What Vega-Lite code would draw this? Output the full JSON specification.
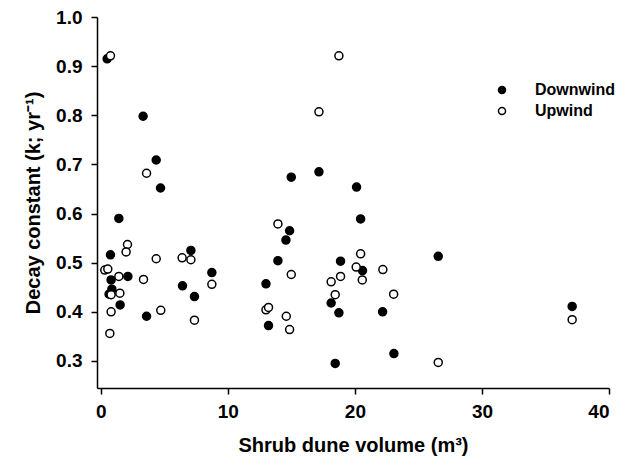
{
  "$schema": "https://vega.github.io/schema/vega-lite/v6.json",
  "width": 512,
  "height": 371,
  "autosize": "none",
  "padding": {"left": 97, "top": 17, "right": 22, "bottom": 82},
  "background": "white",
  "config": {
    "view": {"stroke": null},
    "font": "Liberation Sans",
    "axis": {
      "grid": false,
      "domainColor": "black",
      "domainWidth": 1.5,
      "tickColor": "black",
      "tickWidth": 1.5,
      "tickSize": 6,
      "labelFont": "Liberation Sans",
      "labelFontWeight": "bold",
      "labelFontSize": 19,
      "labelColor": "black",
      "titleFont": "Liberation Sans",
      "titleFontWeight": "bold",
      "titleFontSize": 20,
      "titleColor": "black"
    }
  },
  "data": {
    "values": [
      {"volume": 0.5, "k": 0.915, "side": "Downwind"},
      {"volume": 3.33, "k": 0.798, "side": "Downwind"},
      {"volume": 4.36, "k": 0.709, "side": "Downwind"},
      {"volume": 4.7, "k": 0.652, "side": "Downwind"},
      {"volume": 1.42, "k": 0.59, "side": "Downwind"},
      {"volume": 0.76, "k": 0.516, "side": "Downwind"},
      {"volume": 7.09, "k": 0.525, "side": "Downwind"},
      {"volume": 8.74, "k": 0.48, "side": "Downwind"},
      {"volume": 0.81, "k": 0.465, "side": "Downwind"},
      {"volume": 2.13, "k": 0.472, "side": "Downwind"},
      {"volume": 6.43, "k": 0.453, "side": "Downwind"},
      {"volume": 0.87, "k": 0.446, "side": "Downwind"},
      {"volume": 0.65, "k": 0.436, "side": "Downwind"},
      {"volume": 7.37, "k": 0.431, "side": "Downwind"},
      {"volume": 1.52, "k": 0.414, "side": "Downwind"},
      {"volume": 3.6, "k": 0.391, "side": "Downwind"},
      {"volume": 13.0, "k": 0.457, "side": "Downwind"},
      {"volume": 13.2, "k": 0.372, "side": "Downwind"},
      {"volume": 14.99, "k": 0.674, "side": "Downwind"},
      {"volume": 17.17, "k": 0.685, "side": "Downwind"},
      {"volume": 20.13, "k": 0.654, "side": "Downwind"},
      {"volume": 20.45, "k": 0.589, "side": "Downwind"},
      {"volume": 14.86, "k": 0.565, "side": "Downwind"},
      {"volume": 14.57, "k": 0.546, "side": "Downwind"},
      {"volume": 26.56, "k": 0.513, "side": "Downwind"},
      {"volume": 13.94, "k": 0.504, "side": "Downwind"},
      {"volume": 18.87, "k": 0.503, "side": "Downwind"},
      {"volume": 20.6, "k": 0.484, "side": "Downwind"},
      {"volume": 18.13, "k": 0.418, "side": "Downwind"},
      {"volume": 18.74, "k": 0.398, "side": "Downwind"},
      {"volume": 22.18, "k": 0.4, "side": "Downwind"},
      {"volume": 23.07, "k": 0.315, "side": "Downwind"},
      {"volume": 18.45, "k": 0.295, "side": "Downwind"},
      {"volume": 37.1, "k": 0.411, "side": "Downwind"},
      {"volume": 0.76, "k": 0.921, "side": "Upwind"},
      {"volume": 3.6, "k": 0.682, "side": "Upwind"},
      {"volume": 2.1, "k": 0.537, "side": "Upwind"},
      {"volume": 1.99, "k": 0.522, "side": "Upwind"},
      {"volume": 4.36, "k": 0.508, "side": "Upwind"},
      {"volume": 6.4, "k": 0.51, "side": "Upwind"},
      {"volume": 7.09, "k": 0.506, "side": "Upwind"},
      {"volume": 0.31, "k": 0.485, "side": "Upwind"},
      {"volume": 0.55, "k": 0.487, "side": "Upwind"},
      {"volume": 1.42, "k": 0.472, "side": "Upwind"},
      {"volume": 3.36, "k": 0.466, "side": "Upwind"},
      {"volume": 8.74, "k": 0.456, "side": "Upwind"},
      {"volume": 0.81, "k": 0.435, "side": "Upwind"},
      {"volume": 1.5, "k": 0.438, "side": "Upwind"},
      {"volume": 0.81, "k": 0.4, "side": "Upwind"},
      {"volume": 4.72, "k": 0.403, "side": "Upwind"},
      {"volume": 7.37, "k": 0.383, "side": "Upwind"},
      {"volume": 0.71, "k": 0.356, "side": "Upwind"},
      {"volume": 13.0, "k": 0.404, "side": "Upwind"},
      {"volume": 13.2, "k": 0.409, "side": "Upwind"},
      {"volume": 18.74, "k": 0.921, "side": "Upwind"},
      {"volume": 17.17, "k": 0.807, "side": "Upwind"},
      {"volume": 13.94, "k": 0.579, "side": "Upwind"},
      {"volume": 20.45, "k": 0.518, "side": "Upwind"},
      {"volume": 20.1, "k": 0.491, "side": "Upwind"},
      {"volume": 22.2, "k": 0.486, "side": "Upwind"},
      {"volume": 14.99, "k": 0.476, "side": "Upwind"},
      {"volume": 20.58, "k": 0.465, "side": "Upwind"},
      {"volume": 18.87, "k": 0.472, "side": "Upwind"},
      {"volume": 18.13, "k": 0.461, "side": "Upwind"},
      {"volume": 18.45, "k": 0.435, "side": "Upwind"},
      {"volume": 23.05, "k": 0.436, "side": "Upwind"},
      {"volume": 14.6, "k": 0.391, "side": "Upwind"},
      {"volume": 14.86, "k": 0.364, "side": "Upwind"},
      {"volume": 26.56, "k": 0.297, "side": "Upwind"},
      {"volume": 37.1, "k": 0.384, "side": "Upwind"}
    ]
  },
  "mark": {"type": "point", "filled": false, "shape": "circle", "size": 64, "stroke": "black", "strokeWidth": 1.5, "opacity": 1},
  "encoding": {
    "x": {
      "field": "volume", "type": "quantitative",
      "scale": {"domain": [-0.3, 40], "nice": false, "zero": false},
      "axis": {"values": [0, 10, 20, 30, 40], "title": "Shrub dune volume (m³)", "labelPadding": 8, "titlePadding": 14}
    },
    "y": {
      "field": "k", "type": "quantitative",
      "scale": {"domain": [0.245, 1.0], "nice": false, "zero": false},
      "axis": {"values": [0.3, 0.4, 0.5, 0.6, 0.7, 0.8, 0.9, 1.0], "format": ".1f", "title": "Decay constant (k; yr⁻¹)", "labelPadding": 9, "titlePadding": 12}
    },
    "fill": {
      "field": "side", "type": "nominal",
      "scale": {"domain": ["Downwind", "Upwind"], "range": ["black", "white"]},
      "legend": {
        "title": null, "orient": "none", "legendX": 397, "legendY": 65,
        "padding": 0, "rowPadding": 5, "symbolType": "circle", "symbolSize": 50,
        "symbolStrokeColor": "black", "symbolStrokeWidth": 1.5,
        "labelFont": "Liberation Sans", "labelFontWeight": "bold", "labelFontSize": 16,
        "labelColor": "black", "labelOffset": 25
      }
    }
  }
}
